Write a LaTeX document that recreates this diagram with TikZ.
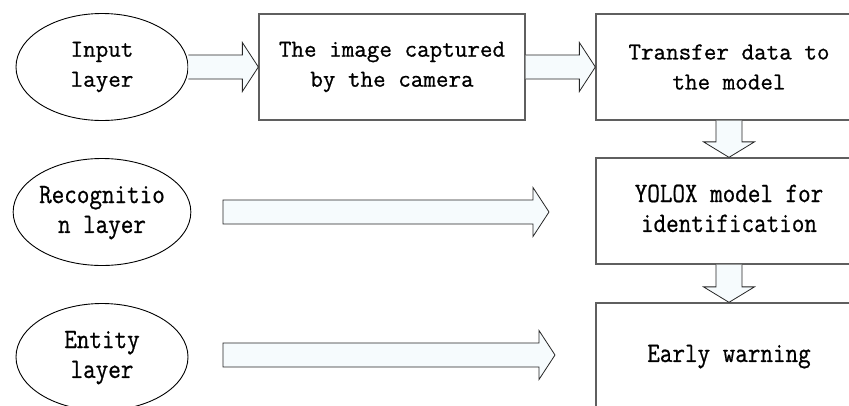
\documentclass[tikz,border=0pt]{standalone}
\usepackage{graphicx}
\usepackage{fontspec}
\setmonofont{Latin Modern Mono}[FakeBold=0.8]
\usetikzlibrary{shapes.geometric,calc}
\definecolor{afill}{RGB}{246,251,253}
\definecolor{boxline}{RGB}{95,95,95}
\newcommand{\talltext}[1]{\scalebox{1}[1.15]{\fontsize{24.4}{26}\selectfont\begin{tabular}{@{}c@{}}#1\end{tabular}}}
% horizontal block arrow: #1 start, #2 tip, #3 closing (cycle or empty)
\newcommand{\harrowpath}[3]{%
  \draw[blockarrow] let \p1=(#1), \p2=(#2) in
    (\x1,\y2+12pt) -- (\x2-16pt,\y2+12pt) -- (\x2-16pt,\y2+24.5pt) -- (\x2,\y2)
    -- (\x2-16pt,\y2-24.5pt) -- (\x2-16pt,\y2-12pt) -- (\x1,\y2-12pt) #3;}
% vertical block arrow: #1 start, #2 tip
\newcommand{\varrowpath}[2]{%
  \draw[blockarrow] let \p1=(#1), \p2=(#2) in
    (\x2-13pt,\y1) -- (\x2-13pt,\y2+15.5pt) -- (\x2-25.5pt,\y2+15.5pt) -- (\x2,\y2)
    -- (\x2+25.5pt,\y2+15.5pt) -- (\x2+13pt,\y2+15.5pt) -- (\x2+13pt,\y1);}
\begin{document}
\begin{tikzpicture}[x=1pt,y=-1pt,
  txt/.style={font=\fontsize{24.4}{30}\selectfont\ttfamily, align=center, text=black},
  layernode/.style={txt, ellipse, draw=black, line width=0.9pt, minimum width=172pt, minimum height=107pt, inner sep=0pt, fill=white},
  stepbox/.style={txt, rectangle, draw=boxline, line width=1.3pt, minimum width=266pt, minimum height=106pt, inner sep=0pt, fill=white},
  blockarrow/.style={draw=black!85, fill=afill, line width=0.8pt, line join=miter}]
\useasboundingbox (0,0) rectangle (849,405);
\clip (0,0) rectangle (849,405);

% layers
\node[layernode] (in)  at (102,67)  {Input\\layer};
\node[layernode] (rec) at (102,212) {\talltext{Recognitio\\n layer}};
\node[layernode] (ent) at (102,357) {\talltext{Entity\\layer}};

% process boxes
\node[stepbox] (cam)   at (392,67)  {The image captured\\by the camera};
\node[stepbox] (trans) at (729,67)  {Transfer data to\\the model};
\node[stepbox] (yolo)  at (729,211) {\talltext{YOLOX model for\\identification}};
\node[stepbox] (warn)  at (729,356) {\talltext{Early warning}};

% free arrow ends
\coordinate (m1s) at (223,212);
\coordinate (m1e) at (549,212);
\coordinate (m2s) at (223,355);
\coordinate (m2e) at (555,355);

% connectors
\harrowpath{in.east}{cam.west}{}
\harrowpath{cam.east}{trans.west}{}
\varrowpath{trans.south}{yolo.north}
\varrowpath{yolo.south}{warn.north}
\harrowpath{m1s}{m1e}{-- cycle}
\harrowpath{m2s}{m2e}{-- cycle}
\end{tikzpicture}
\end{document}
